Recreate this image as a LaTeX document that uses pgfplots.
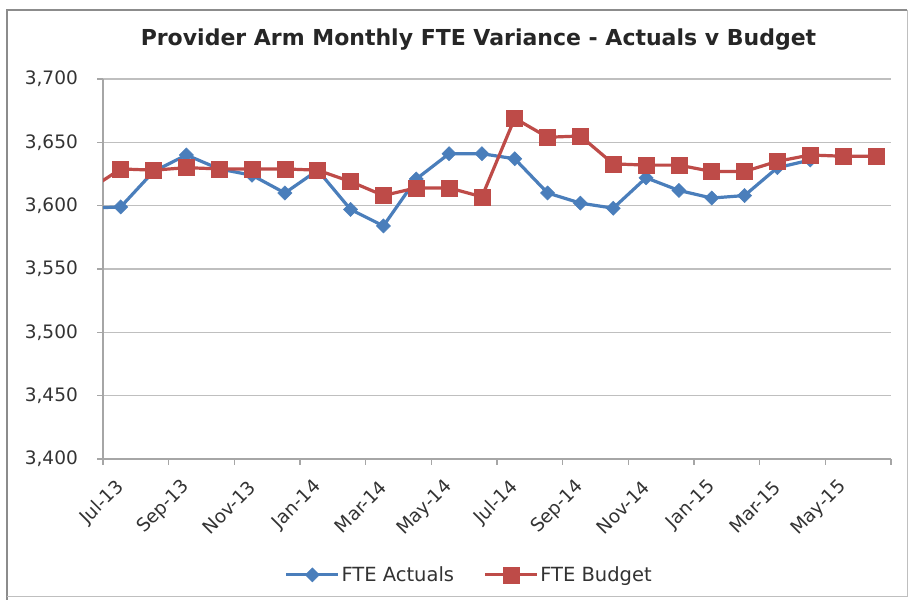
\documentclass[border=0pt]{standalone}
\usepackage{pgfplots}
\pgfplotsset{compat=1.18}
\usepackage{fontspec}
\setmainfont{DejaVu Sans}

\definecolor{actblue}{HTML}{4A7EBB}
\definecolor{budred}{HTML}{BE4B48}
\definecolor{gridgray}{HTML}{BFBFBF}
\definecolor{axisgray}{HTML}{A6A6A6}
\definecolor{framegray}{HTML}{8C8C8C}
\definecolor{labelgray}{HTML}{333333}

\begin{document}
\begin{tikzpicture}[x=1bp,y=1bp]
\useasboundingbox (0,0) rectangle (909,600);
\fill[white] (0,0) rectangle (909,600);

\begin{axis}[
  at={(103bp,141bp)}, anchor=south west,
  scale only axis, width=788bp, height=380bp,
  xmin=0, xmax=24, ymin=3400, ymax=3700,
  xtick={0,2,...,24},
  xticklabels={Jul-13,Sep-13,Nov-13,Jan-14,Mar-14,May-14,Jul-14,Sep-14,Nov-14,Jan-15,Mar-15,May-15,{}},
  ytick={3400,3450,...,3700},
  axis x line*=bottom, axis y line*=left,
  tick align=outside, major tick length=6bp,
  axis line style={axisgray, line width=1.4bp},
  major tick style={axisgray, line width=1.2bp},
  ymajorgrids, grid style={gridgray, line width=1.2bp},
  /pgf/number format/assume math mode=true,
  /pgf/number format/1000 sep={,},
  ticklabel style={font=\fontsize{18.5bp}{21bp}\selectfont, text=labelgray},
  yticklabel style={xshift=-19bp, anchor=east, inner sep=0pt},
  xticklabel style={anchor=east, xshift=18bp, yshift=-19bp, rotate=45, inner sep=0pt},
  clip marker paths=true,
  legend columns=2,
  legend style={at={(0.4645,-0.305)}, anchor=center, draw=none, fill=none,
    font=\fontsize{19.5bp}{22bp}\selectfont, text=labelgray,
    /tikz/every even column/.append style={column sep=28bp},
    nodes={inner sep=1.5bp}},
  legend cell align=left,
  legend image code/.code={
    \draw[mark repeat=2, mark phase=2, #1] plot coordinates {(0bp,0bp) (26bp,0bp) (52bp,0bp)};
  },
]
\addplot[actblue, line width=3.2bp, mark=square*, mark size=5bp,
  mark options={rotate=45, solid, fill=actblue, draw=actblue, line width=0.5bp}]
  coordinates {
  (-0.46,3598) (0.54,3599) (1.54,3627) (2.54,3640) (3.54,3629) (4.54,3624)
  (5.54,3610) (6.54,3628) (7.54,3597) (8.54,3584) (9.54,3621) (10.54,3641)
  (11.54,3641) (12.54,3637) (13.54,3610) (14.54,3602) (15.54,3598) (16.54,3622)
  (17.54,3612) (18.54,3606) (19.54,3608) (20.54,3630) (21.54,3636)
};
\addlegendentry{FTE Actuals}
\addplot[budred, line width=3.2bp, mark=square*, mark size=8bp,
  mark options={solid, fill=budred, draw=budred, line width=0.5bp}]
  coordinates {
  (-0.46,3612) (0.54,3629) (1.54,3628) (2.54,3630) (3.54,3629) (4.54,3629)
  (5.54,3629) (6.54,3628) (7.54,3619) (8.54,3608) (9.54,3614) (10.54,3614)
  (11.54,3607) (12.54,3669) (13.54,3654) (14.54,3655) (15.54,3633) (16.54,3632)
  (17.54,3632) (18.54,3627) (19.54,3627) (20.54,3635) (21.54,3640) (22.54,3639)
  (23.54,3639)
};
\addlegendentry{FTE Budget}
\end{axis}

\node[font=\fontsize{22bp}{25bp}\selectfont\bfseries, text=black!85] at (478.5,560)
  {Provider Arm Monthly FTE Variance - Actuals v Budget};

% chart area border
\draw[framegray, line width=2bp] (7,0) -- (7,590) -- (907,590);
\draw[gridgray, line width=1bp] (907,590) -- (907,3) -- (7,3);
\end{tikzpicture}
\end{document}
